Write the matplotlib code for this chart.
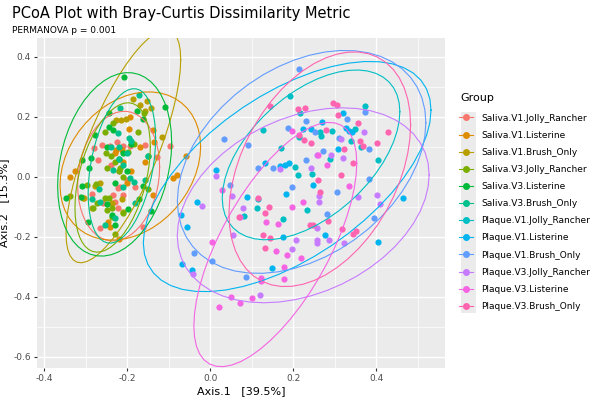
import numpy as np
import matplotlib
matplotlib.use('Agg')
import matplotlib.pyplot as plt
from matplotlib.lines import Line2D
from matplotlib.patches import Rectangle

groups = ['Saliva.V1.Jolly_Rancher', 'Saliva.V1.Listerine', 'Saliva.V1.Brush_Only',
          'Saliva.V3.Jolly_Rancher', 'Saliva.V3.Listerine', 'Saliva.V3.Brush_Only',
          'Plaque.V1.Jolly_Rancher', 'Plaque.V1.Listerine', 'Plaque.V1.Brush_Only',
          'Plaque.V3.Jolly_Rancher', 'Plaque.V3.Listerine', 'Plaque.V3.Brush_Only']
colors = ['#F8766D', '#DE8C00', '#B79F00', '#7CAE00', '#00BA38', '#00C08B',
          '#00BFC4', '#00B4F0', '#619CFF', '#C77CFF', '#F564E3', '#FF64B0']

# Axis.1 / Axis.2 coordinates, one list per group
s_v1_jolly_x = [-0.224, -0.210, -0.193, -0.241, -0.260, -0.280, -0.157, -0.096, -0.270, -0.128,
                -0.284, -0.234, -0.258, -0.229, -0.222, -0.161, -0.265, -0.217, -0.181, -0.222,
                -0.220, -0.200, -0.240, -0.210]
s_v1_jolly_y = [0.117, 0.103, 0.103, 0.103, 0.107, 0.097, 0.107, 0.103, 0.057, 0.067,
                -0.057, -0.060, -0.087, -0.083, -0.103, -0.167, -0.170, -0.033, -0.033, -0.037,
                0.020, -0.010, 0.040, -0.060]
s_v1_list_x = [-0.193, -0.195, -0.137, -0.135, -0.227, -0.212, -0.157, -0.337, -0.325, -0.304,
               -0.137, -0.246, -0.241, -0.219, -0.089, -0.080, -0.058,
               -0.210, -0.190, -0.230, -0.200, -0.170]
s_v1_list_y = [0.200, 0.160, 0.157, 0.117, 0.090, 0.090, 0.050, 0.000, 0.020, -0.070,
               -0.060, -0.150, -0.167, -0.207, -0.003, 0.007, 0.070,
               0.050, 0.020, 0.080, -0.020, 0.100]
s_v1_brush_x = [-0.186, -0.169, -0.157, -0.152, -0.142, -0.227, -0.214, -0.202, -0.116,
                -0.306, -0.284, -0.212, -0.210, -0.236, -0.277, -0.265]
s_v1_brush_y = [0.260, 0.240, 0.220, 0.253, 0.230, 0.190, 0.190, 0.193, 0.133,
                -0.070, -0.103, -0.073, -0.117, -0.087, -0.030, -0.020]
s_v3_jolly_x = [-0.159, -0.234, -0.253, -0.173, -0.183, -0.251, -0.198, -0.337, -0.296, -0.275,
                -0.282, -0.272, -0.253, -0.243, -0.236, -0.248, -0.236, -0.210, -0.229, -0.217,
                -0.149, -0.230, -0.220, -0.240, -0.210, -0.250]
s_v3_jolly_y = [0.213, 0.180, 0.150, 0.150, 0.110, 0.080, 0.083, -0.063, -0.027, -0.023,
                -0.103, -0.087, -0.070, -0.070, -0.103, -0.110, -0.133, -0.120, -0.190, 0.030,
                -0.040, 0.050, 0.020, 0.070, 0.000, 0.030]
s_v3_list_x = [-0.207, -0.108, -0.176, -0.243, -0.161, -0.243, -0.234, -0.277, -0.149, -0.287,
               -0.308, -0.292, -0.347, -0.311, -0.308, -0.248, -0.236, -0.198, -0.171, -0.142,
               -0.161, -0.294, -0.229, -0.220, -0.200, -0.250, -0.190, -0.230, -0.210]
s_v3_list_y = [0.333, 0.233, 0.220, 0.213, 0.193, 0.167, 0.157, 0.140, 0.070, 0.063,
               0.057, 0.030, -0.070, -0.067, -0.030, -0.090, -0.127, -0.107, -0.073, -0.113,
               -0.030, -0.150, -0.160, 0.060, 0.020, 0.100, 0.110, -0.020, 0.080]
s_v3_brush_x = [-0.171, -0.217, -0.222, -0.195, -0.219, -0.267, -0.284, -0.265, -0.181, -0.253,
                -0.193, -0.149, -0.157, -0.234, -0.183, -0.210, -0.229,
                -0.200, -0.220, -0.190, -0.240, -0.210]
s_v3_brush_y = [0.273, 0.230, 0.147, 0.130, 0.100, -0.040, -0.073, -0.083, -0.087, -0.160,
                -0.003, 0.070, -0.010, 0.023, -0.017, -0.033, -0.137,
                0.080, 0.060, 0.120, 0.100, 0.040]

p_v1_jolly_x = [0.193, 0.217, 0.373, 0.128, 0.265, 0.267, 0.294, 0.349, 0.214, 0.171, 0.340,
                0.364, 0.289, 0.405, 0.205, 0.212, 0.246, 0.116, 0.113, 0.082, 0.176, 0.234]
p_v1_jolly_y = [0.270, 0.213, 0.237, 0.157, 0.150, 0.137, 0.153, 0.160, 0.133, 0.097, 0.120,
                0.100, 0.060, 0.057, 0.033, 0.007, 0.010, -0.073, -0.103, -0.130, -0.140, -0.110]
p_v1_list_x = [0.320, 0.224, 0.243, 0.270, 0.328, 0.335, 0.342, 0.308, 0.014, 0.133, 0.169,
               0.181, 0.190, 0.089, 0.183, 0.248, 0.465, -0.031, -0.070, -0.055, -0.067, 0.277,
               0.176, 0.405, 0.149, -0.043]
p_v1_list_y = [0.213, 0.160, 0.160, 0.183, 0.163, 0.153, 0.150, 0.093, 0.023, 0.047, 0.037,
               0.040, 0.047, -0.067, -0.057, -0.027, -0.070, -0.083, -0.127, -0.167, -0.290, -0.193,
               -0.200, -0.217, -0.303, -0.310]
p_v1_brush_x = [0.214, 0.373, 0.330, 0.231, 0.188, 0.253, 0.034, 0.092, 0.383, 0.272, 0.231,
                0.116, 0.152, 0.383, 0.048, 0.198, 0.306, 0.395, 0.282, -0.039, 0.005,
                0.087, 0.310]
p_v1_brush_y = [0.360, 0.217, 0.193, 0.187, 0.163, 0.150, 0.127, 0.107, 0.093, 0.087, 0.057,
                0.030, 0.030, -0.007, -0.027, -0.033, -0.050, -0.137, -0.123, -0.253, -0.280,
                -0.333, 0.130]
p_v3_jolly_x = [0.371, 0.316, 0.292, 0.258, 0.320, 0.014, 0.169, 0.243, 0.053, 0.357, 0.402,
                0.410, 0.263, 0.263, -0.019, 0.080, 0.072, 0.055, 0.258, 0.207, 0.198, 0.258,
                0.258, 0.287, 0.323, -0.041, 0.120]
p_v3_jolly_y = [0.150, 0.127, 0.073, 0.073, 0.063, 0.003, 0.027, 0.030, -0.063, -0.067, -0.060,
                -0.090, -0.063, -0.083, -0.097, -0.103, -0.133, -0.193, -0.170, -0.210, -0.240,
                -0.210, -0.220, -0.210, -0.220, -0.323, -0.393]
p_v3_list_x = [0.198, 0.260, 0.282, 0.335, 0.224, 0.198, 0.135, 0.164, 0.159, 0.186, 0.219,
               0.178, 0.178, 0.123, 0.123, 0.051, 0.072, 0.101, 0.022, 0.005, 0.029]
p_v3_list_y = [0.153, 0.073, 0.040, -0.030, -0.083, -0.100, -0.150, -0.157, -0.247, -0.260,
               -0.270, -0.300, -0.340, -0.337, -0.347, -0.400, -0.420, -0.403, -0.433, -0.217,
               -0.043]
p_v3_brush_x = [0.212, 0.229, 0.296, 0.306, 0.308, 0.357, 0.429, 0.214, 0.227, 0.243, 0.280,
                0.323, 0.361, 0.369, 0.402, 0.345, 0.316, 0.260, 0.265, 0.284, 0.241, 0.248,
                0.318, 0.345, 0.352, 0.116, 0.142, 0.133, 0.070, 0.128, 0.145, 0.133, 0.145]
p_v3_brush_y = [0.227, 0.230, 0.247, 0.240, 0.207, 0.180, 0.150, 0.140, 0.123, 0.113, 0.157,
                0.093, 0.120, 0.103, 0.113, 0.047, 0.007, -0.010, -0.050, -0.147, -0.160, -0.160,
                -0.173, -0.190, -0.180, -0.070, -0.100, -0.120, -0.133, -0.193, -0.203, -0.237,
                0.237]

xs = [s_v1_jolly_x, s_v1_list_x, s_v1_brush_x, s_v3_jolly_x, s_v3_list_x, s_v3_brush_x,
      p_v1_jolly_x, p_v1_list_x, p_v1_brush_x, p_v3_jolly_x, p_v3_list_x, p_v3_brush_x]
ys = [s_v1_jolly_y, s_v1_list_y, s_v1_brush_y, s_v3_jolly_y, s_v3_list_y, s_v3_brush_y,
      p_v1_jolly_y, p_v1_list_y, p_v1_brush_y, p_v3_jolly_y, p_v3_list_y, p_v3_brush_y]


def cov_trob(pts, nu=5, maxit=25, tol=0.01):
    # multivariate t robust covariance (like MASS::cov.trob, used by stat_ellipse)
    n, p = pts.shape
    loc = pts.mean(axis=0)
    w = np.ones(n)
    for _ in range(maxit):
        w0 = w
        X = pts - loc
        _, d, vt = np.linalg.svd(np.sqrt(w / w.sum())[:, None] * X, full_matrices=False)
        wX = X @ vt.T / d
        Q = (wX ** 2).sum(axis=1)
        w = (nu + p) / (nu + Q)
        loc = (w[:, None] * pts).sum(axis=0) / w.sum()
        if np.all(np.abs(w - w0) < tol):
            break
    X = pts - loc
    cov = (np.sqrt(w)[:, None] * X).T @ (np.sqrt(w)[:, None] * X) / n
    return loc, cov


def ellipse_path(x, y, level=0.95, segments=51):
    pts = np.column_stack([x, y])
    center, shape = cov_trob(pts)
    m = len(pts) - 1
    fq = (m / 2) * ((1 - level) ** (-2 / m) - 1)  # F(2, n-1) quantile
    radius = np.sqrt(2 * fq)
    ang = np.linspace(0, 2 * np.pi, segments)
    circle = np.column_stack([np.cos(ang), np.sin(ang)])
    chol = np.linalg.cholesky(shape).T
    return center + radius * circle @ chol


fig = plt.figure(figsize=(6, 4), dpi=100)
ax = fig.add_axes([0.062, 0.08, 0.68, 0.825])
ax.set_facecolor('#EBEBEB')

for gx, gy, c in zip(xs, ys, colors):
    ax.scatter(gx, gy, s=20, color=c, linewidths=0, zorder=3)
for gx, gy, c in zip(xs, ys, colors):
    e = ellipse_path(gx, gy)
    ax.plot(e[:, 0], e[:, 1], color=c, lw=0.8, zorder=4)

ax.set_xlim(-0.417, 0.566)
ax.set_ylim(-0.637, 0.463)
ax.set_xticks([-0.4, -0.2, 0.0, 0.2, 0.4])
ax.set_xticklabels(['-0.4', '-0.2', '0.0', '0.2', '0.4'])
ax.set_yticks([-0.6, -0.4, -0.2, 0.0, 0.2, 0.4])
ax.set_yticklabels(['-0.6', '-0.4', '-0.2', '0.0', '0.2', '0.4'])
ax.set_xticks([-0.3, -0.1, 0.1, 0.3, 0.5], minor=True)
ax.set_yticks([-0.5, -0.3, -0.1, 0.1, 0.3], minor=True)
ax.grid(which='major', color='white', lw=1.0, zorder=0)
ax.grid(which='minor', color='white', lw=0.5, zorder=0)
ax.set_axisbelow(True)
for sp in ax.spines.values():
    sp.set_visible(False)
ax.tick_params(which='major', length=2.5, color='#333333', labelsize=6.5, labelcolor='#4D4D4D', pad=2)
ax.tick_params(which='minor', length=0)
ax.set_xlabel('Axis.1   [39.5%]', fontsize=8, labelpad=2)
ax.set_ylabel('Axis.2   [15.3%]', fontsize=8, labelpad=3)

fig.text(0.02, 0.955, 'PCoA Plot with Bray-Curtis Dissimilarity Metric', fontsize=10.5, va='baseline')
fig.text(0.02, 0.918, 'PERMANOVA p = 0.001', fontsize=6.5, va='baseline')

# legend
fig.text(0.768, 0.755, 'Group', fontsize=8, va='center')
fig.patches.append(Rectangle((0.768, 0.218), 0.025, 0.502, transform=fig.transFigure,
                             facecolor='#EBEBEB', edgecolor='none', zorder=0))
handles = [Line2D([], [], color=c, marker='o', markersize=4, lw=0.8) for c in colors]
fig.legend(handles, groups, loc='upper left', bbox_to_anchor=(0.765, 0.716), frameon=False,
           fontsize=6.5, handlelength=1.5, handletextpad=1.0, labelspacing=0.9,
           borderaxespad=0, borderpad=0)

fig.savefig('out.png', dpi=100)
